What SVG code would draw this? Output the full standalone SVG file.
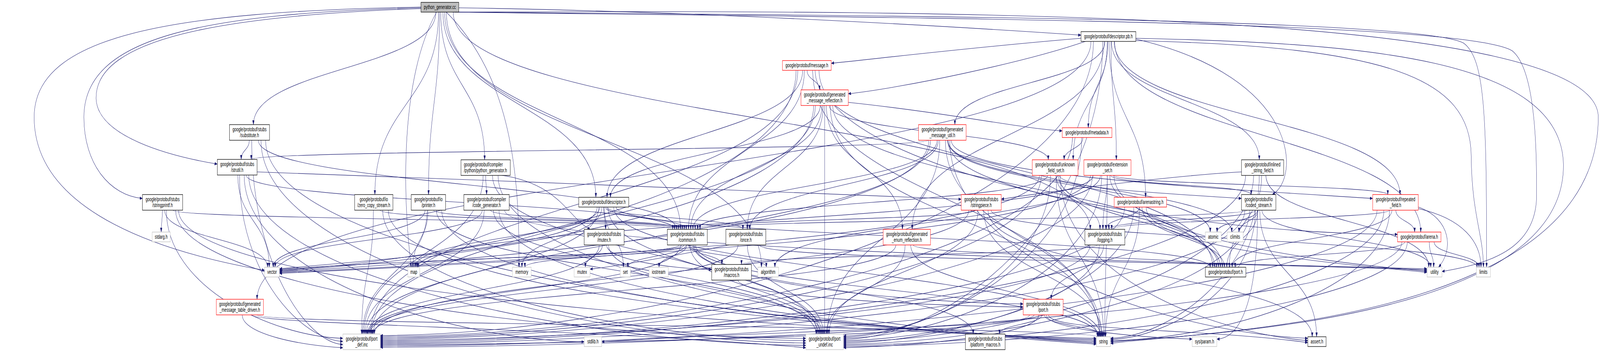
<svg xmlns="http://www.w3.org/2000/svg" width="6560" height="901" viewBox="0 0 6560 901" preserveAspectRatio="none">
<style>
svg{width:100vw;height:100vh}
.e path{fill:none;stroke:#191970;stroke-width:1.1;marker-end:url(#a)}
.node rect{stroke-width:1.3}
.b rect{fill:#fff;stroke:#000}
.g rect{fill:#fff;stroke:#bfbfbf}
.r rect{fill:#fff;stroke:#ff0000}
.root rect{fill:#bfbfbf;stroke:#000}
text{font-family:"Liberation Sans",Arial,Helvetica,sans-serif;font-size:14.5px;text-anchor:middle;fill:#000}
text.l{text-anchor:start}
</style>
<defs>
<marker id="a" viewBox="0 0 11 8" refX="11" refY="4" markerWidth="11" markerHeight="8" orient="auto" markerUnits="userSpaceOnUse"><path d="M0,0L11,4L0,8z" fill="#191970" stroke="#191970" stroke-width="0.5"/></marker>
</defs>
<rect width="6560" height="901" fill="#fff"/>
<g id="edges" class="e">
<path d="M1807,31C1807,220 1987,220 1987,409"/>
<path d="M1830,31C1830,358 3122,358 3122,684"/>
<path d="M1865,31C3500,40 5800,45 6000,110C6090,150 6095,300 6095,684"/>
<path d="M1790,31C1640,200 1650,500 1686,684"/>
<path d="M1830,31C2100,200 2130,450 2128,684"/>
<path d="M1857,31C4000,25 6553,30 6553,300C6553,820 5000,845 4553,879"/>
<path d="M1865,31C3500,45 6000,50 6200,130C6300,180 6300,400 6300,500C6300,640 6100,675 5912,695"/>
<path d="M1726,18C700,30 140,90 140,300C140,550 700,650 1085,692"/>
<path d="M1858,31C1858,309 4470,309 4470,587"/>
<path d="M1823,31C1823,309 2790,309 2790,587"/>
<path d="M1726,20C800,35 344,100 344,300C344,420 450,500 584,508"/>
<path d="M1881,20C3000,30 4200,80 4432,90"/>
<path d="M1802,31C1802,265 1757,265 1757,498"/>
<path d="M1798,31C1798,265 1537,265 1537,498"/>
<path d="M1816,31C1816,268 2443,268 2443,505"/>
<path d="M1726,22C900,40 394,100 394,250C394,350 700,400 891,420"/>
<path d="M1787,31C1787,175 1039,175 1039,319"/>
<path d="M4657,104C5700,120 6030,200 6032,400C6034,550 6082,600 6082,684"/>
<path d="M4657,98C5600,110 6400,150 6410,420C6420,800 5100,850 4553,875"/>
<path d="M4483,106C4483,558 2729,854 1559,859"/>
<path d="M4521,106C4521,564 3883,864 3458,869"/>
<path d="M4657,100C5340,200 5330,460 5216,498"/>
<path d="M4570,106C4570,350 5825,350 5825,594"/>
<path d="M4547,106C4547,306 4697,306 4697,505"/>
<path d="M4473,106C4473,436 1054,436 1054,766"/>
<path d="M4530,106C4530,212 3915,212 3915,319"/>
<path d="M4557,106C4557,258 5163,258 5163,409"/>
<path d="M4542,106C4542,216 4462,216 4462,327"/>
<path d="M4450,106C4200,160 3700,225 3478,240"/>
<path d="M4432,98C4000,120 3600,150 3408,162"/>
<path d="M4568,106C4568,302 5740,302 5740,498"/>
<path d="M4555,106C4555,258 4577,258 4577,409"/>
<path d="M4527,106C4527,346 3740,346 3740,587"/>
<path d="M4540,106C4540,258 4400,258 4400,409"/>
<path d="M3309,180C3309,205 3360,205 3360,230"/>
<path d="M3291,180C3291,342 2489,342 2489,505"/>
<path d="M3298,180C3298,384 2823,384 2823,587"/>
<path d="M3358,180C3358,432 4781,597 5730,600"/>
<path d="M3342,180C3342,432 4972,432 4972,684"/>
<path d="M3332,180C3332,521 4508,521 4508,862"/>
<path d="M3264,180C3264,489 1993,658 1146,692"/>
<path d="M3271,180C3271,518 1519,518 1519,855"/>
<path d="M3404,270C3404,566 4511,566 4511,862"/>
<path d="M3336,270C3336,527 2022,658 1146,694"/>
<path d="M3370,270C3370,429 2832,429 2832,587"/>
<path d="M3363,270C3363,388 2503,388 2503,505"/>
<path d="M3388,270C3388,429 3700,429 3700,587"/>
<path d="M3375,270C3375,429 3064,429 3064,587"/>
<path d="M3414,270C3414,477 4980,477 4980,684"/>
<path d="M3400,270C3400,340 4298,340 4298,409"/>
<path d="M3478,262C3900,290 4200,330 4355,335"/>
<path d="M3343,270C3343,563 1523,563 1523,855"/>
<path d="M3381,270C3381,563 3381,563 3381,855"/>
<path d="M3894,359C3894,663 4775,850 5362,866"/>
<path d="M3885,359C3885,477 4962,477 4962,594"/>
<path d="M3887,359C3887,477 5050,477 5050,594"/>
<path d="M3876,359C3876,611 4516,611 4516,862"/>
<path d="M3808,359C3808,564 2211,658 1146,696"/>
<path d="M3842,359C3842,473 2841,473 2841,587"/>
<path d="M3847,359C3847,473 3074,473 3074,587"/>
<path d="M3886,359C3886,522 4996,522 4996,684"/>
<path d="M3900,359C3900,448 4937,480 5628,508"/>
<path d="M3805,359C3805,384 1030,384 1030,408"/>
<path d="M3815,359C3815,607 1530,607 1530,855"/>
<path d="M3853,359C3853,607 3393,607 3393,855"/>
<path d="M4440,352C4440,381 4363,381 4363,409"/>
<path d="M4397,352C4397,658 2694,857 1559,862"/>
<path d="M4435,352C4435,657 3849,855 3458,860"/>
<path d="M1089,359C1089,665 3133,840 4495,869"/>
<path d="M1059,359C1059,473 2774,473 2774,587"/>
<path d="M1022,359C1022,384 989,384 989,408"/>
<path d="M1032,359C1032,673 1256,877 1406,882"/>
<path d="M1070,359C1070,670 2410,873 3304,878"/>
<path d="M1001,448C1001,704 1837,870 2395,875"/>
<path d="M975,448C975,566 1104,566 1104,684"/>
<path d="M1009,448C1009,518 2766,518 2766,587"/>
<path d="M1054,440C2000,460 3500,500 3941,510"/>
<path d="M982,448C982,704 1236,869 1406,874"/>
<path d="M1020,448C1020,710 2390,879 3304,884"/>
<path d="M2042,448C2042,706 3514,840 4495,878"/>
<path d="M1991,448C1991,473 1995,473 1995,498"/>
<path d="M2050,448C2300,470 2330,560 2420,587"/>
<path d="M1981,448C1981,652 1492,652 1492,855"/>
<path d="M2019,448C2019,652 3350,652 3350,855"/>
<path d="M4347,448C4347,702 4956,850 5362,872"/>
<path d="M4330,448C4330,655 4525,655 4525,862"/>
<path d="M4262,448C4262,601 2392,658 1146,698"/>
<path d="M4296,448C4296,518 2860,518 2860,587"/>
<path d="M4330,448C4330,518 4510,518 4510,587"/>
<path d="M4343,448C4343,484 4791,495 5090,508"/>
<path d="M4340,448C4340,566 5004,566 5004,684"/>
<path d="M4269,448C4269,698 2643,860 1559,865"/>
<path d="M4307,448C4307,697 3798,858 3458,863"/>
<path d="M4512,448C4512,566 3177,566 3177,684"/>
<path d="M4483,448C4483,566 1714,566 1714,684"/>
<path d="M4540,448C4540,655 4530,655 4530,862"/>
<path d="M4567,448C4567,596 5337,668 5851,694"/>
<path d="M4471,448C4471,601 2476,658 1146,700"/>
<path d="M4540,448C4540,518 4522,518 4522,587"/>
<path d="M4552,448C4552,473 5130,473 5130,498"/>
<path d="M4550,448C4550,566 5012,566 5012,684"/>
<path d="M4564,448C4564,473 5690,473 5690,498"/>
<path d="M4479,448C4479,700 2727,863 1559,868"/>
<path d="M4517,448C4517,699 3882,861 3458,866"/>
<path d="M5163,448C5163,699 4797,861 4553,866"/>
<path d="M5190,448C5190,566 5858,566 5858,684"/>
<path d="M5173,448C5173,566 5040,566 5040,684"/>
<path d="M5090,440C4800,450 4300,490 4105,510"/>
<path d="M5107,448C5107,705 2978,872 1559,877"/>
<path d="M5140,448C5140,704 4131,870 3458,875"/>
<path d="M666,538C666,566 661,566 661,594"/>
<path d="M732,538C732,735 2990,840 4495,866"/>
<path d="M675,538C675,611 1097,611 1097,684"/>
<path d="M709,538C709,562 2758,562 2758,587"/>
<path d="M682,538C682,735 1116,861 1406,866"/>
<path d="M720,538C720,735 2270,861 3304,866"/>
<path d="M1592,538C1592,738 3334,840 4495,872"/>
<path d="M1558,538C1558,562 2782,562 2782,587"/>
<path d="M1531,538C1531,696 1483,696 1483,855"/>
<path d="M1569,538C1569,738 2610,867 3304,872"/>
<path d="M1755,538C1755,611 1693,611 1693,684"/>
<path d="M1811,538C1811,740 3421,840 4495,875"/>
<path d="M1743,538C1743,611 1120,611 1120,684"/>
<path d="M1777,538C1777,562 2798,562 2798,587"/>
<path d="M1751,538C1751,696 1487,696 1487,855"/>
<path d="M1789,538C1789,696 3346,696 3346,855"/>
<path d="M2046,538C2046,740 3515,840 4495,881"/>
<path d="M2069,538C2069,628 4338,665 5851,688"/>
<path d="M1977,538C1977,611 1128,611 1128,684"/>
<path d="M2011,538C2011,562 2806,562 2806,587"/>
<path d="M1985,538C1985,696 1497,696 1497,855"/>
<path d="M2023,538C2023,696 3356,696 3356,855"/>
<path d="M2459,530C2459,607 1702,607 1702,684"/>
<path d="M2468,530C2468,607 2140,607 2140,684"/>
<path d="M2477,530C2477,607 2556,607 2556,684"/>
<path d="M2516,530C2516,696 4502,696 4502,862"/>
<path d="M2448,530C2448,625 1667,658 1146,688"/>
<path d="M2482,530C2482,558 2814,558 2814,587"/>
<path d="M2475,530C2475,558 2483,558 2483,587"/>
<path d="M2487,530C2487,558 3046,558 3046,587"/>
<path d="M2526,530C2526,607 4962,607 4962,684"/>
<path d="M2455,530C2455,692 1502,692 1502,855"/>
<path d="M2493,530C2493,692 3361,692 3361,855"/>
<path d="M4051,538C4051,700 5380,700 5380,862"/>
<path d="M4064,538C4064,611 6056,611 6056,684"/>
<path d="M4033,538C4033,700 4519,700 4519,862"/>
<path d="M3999,538C3999,562 2850,562 2850,587"/>
<path d="M3972,538C3972,696 1535,696 1535,855"/>
<path d="M4010,538C4010,696 3399,696 3399,855"/>
<path d="M4672,530C4672,696 4533,696 4533,862"/>
<path d="M4699,530C4699,630 5390,670 5851,697"/>
<path d="M4672,530C4672,558 4534,558 4534,587"/>
<path d="M4682,530C4682,607 5020,607 5020,684"/>
<path d="M4611,530C4611,736 2780,869 1559,874"/>
<path d="M4649,530C4649,739 3934,873 3458,878"/>
<path d="M5165,538C5165,700 5398,700 5398,862"/>
<path d="M5156,538C5156,566 4990,566 4990,594"/>
<path d="M5158,538C5158,566 5080,566 5080,594"/>
<path d="M5147,538C5147,737 4791,864 4553,869"/>
<path d="M5174,538C5174,611 5866,611 5866,684"/>
<path d="M5113,538C5113,562 2870,562 2870,587"/>
<path d="M5147,538C5147,562 4546,562 4546,587"/>
<path d="M5157,538C5157,611 5030,611 5030,684"/>
<path d="M5156,538C5156,780 5080,866 4989,868"/>
<path d="M5104,538C5104,743 2977,875 1559,880"/>
<path d="M5124,538C5124,744 4124,876 3458,881"/>
<path d="M5815,530C5950,560 5960,640 5898,684"/>
<path d="M5815,534C6000,560 6072,620 6072,684"/>
<path d="M5697,538C5697,740 5011,867 4553,872"/>
<path d="M5697,538C5697,562 4558,562 4558,587"/>
<path d="M5723,538C5723,566 5800,566 5800,594"/>
<path d="M5707,538C5707,611 5052,611 5052,684"/>
<path d="M5646,538C5646,747 3194,881 1559,886"/>
<path d="M5674,538C5674,746 4344,879 3458,884"/>
<path d="M2470,627C2470,655 2400,655 2400,684"/>
<path d="M2487,627C2487,665 2746,687 2918,690"/>
<path d="M2457,627C2457,741 1506,741 1506,855"/>
<path d="M2495,627C2495,741 3366,741 3366,855"/>
<path d="M2825,627C2825,655 3142,655 3142,684"/>
<path d="M2816,627C2816,655 2702,655 2702,684"/>
<path d="M2796,627C2796,655 1709,655 1709,684"/>
<path d="M2804,627C2804,655 2152,655 2152,684"/>
<path d="M2813,627C2813,655 2574,655 2574,684"/>
<path d="M2852,627C2852,744 4505,744 4505,862"/>
<path d="M2784,627C2784,655 1801,658 1146,690"/>
<path d="M2822,627C2822,652 2960,652 2960,677"/>
<path d="M2842,627C2842,741 3990,741 3990,855"/>
<path d="M2847,627C2847,718 3656,773 4195,778"/>
<path d="M2791,627C2791,741 1509,741 1509,855"/>
<path d="M2829,627C2829,741 3371,741 3371,855"/>
<path d="M2990,627C2800,650 2550,680 2419,689"/>
<path d="M3114,627C3114,665 4756,665 5851,691"/>
<path d="M3026,627C3026,741 1514,741 1514,855"/>
<path d="M3064,627C3064,741 3376,741 3376,855"/>
<path d="M3734,627C3734,744 4513,744 4513,862"/>
<path d="M3744,627C3744,655 4988,655 4988,684"/>
<path d="M3673,627C3673,741 1527,741 1527,855"/>
<path d="M3711,627C3711,741 3388,741 3388,855"/>
<path d="M4499,627C4499,652 3040,652 3040,677"/>
<path d="M4525,627C4525,696 4310,696 4310,766"/>
<path d="M4469,627C4469,773 2723,866 1559,871"/>
<path d="M4507,627C4507,774 3878,867 3458,872"/>
<path d="M5880,619C5880,652 6064,652 6064,684"/>
<path d="M5860,619C5860,652 5878,652 5878,684"/>
<path d="M5760,619C5760,652 5064,652 5064,684"/>
<path d="M5748,619C5748,781 3235,884 1559,889"/>
<path d="M5770,619C5770,780 4383,882 3458,887"/>
<path d="M3025,716C3025,758 3727,781 4195,786"/>
<path d="M4299,806C4299,848 4937,840 5362,877"/>
<path d="M4240,806C4240,840 3176,845 2467,875"/>
<path d="M4282,806C4282,834 4522,834 4522,862"/>
<path d="M4290,806C4290,845 4700,864 4888,868"/>
<path d="M4272,806C4272,830 4098,830 4098,855"/>
<path d="M4221,806C4221,852 2624,878 1559,883"/>
<path d="M4259,806C4259,856 3778,885 3458,890"/>
<path d="M1054,806C1054,834 4499,834 4499,862"/>
<path d="M993,806C993,856 1241,885 1406,890"/>
<path d="M1031,806C1031,830 2395,840 3304,890"/>
</g>
<g id="n_python_generator_cc" class="node root"><rect x="1726" y="6" width="155" height="25"/><text x="1803.5" y="23.5">python_generator.cc</text></g>
<g id="n_python_generator_h" class="node b"><rect x="1890" y="409" width="202" height="40"/><text class="l" x="1902" y="426.5">google/protobuf/compiler</text><text class="l" x="1902" y="441">/python/python_generator.h</text></g>
<g id="n_descriptor_pb_h" class="node b"><rect x="4432" y="81" width="225" height="25"/><text x="4544.5" y="98.5">google/protobuf/descriptor.pb.h</text></g>
<g id="n_message_h" class="node r"><rect x="3208" y="155" width="200" height="25"/><text x="3308" y="172.5">google/protobuf/message.h</text></g>
<g id="n_generated_message_reflection_h" class="node r"><rect x="3284" y="230" width="194" height="40"/><text x="3381" y="247.5">google/protobuf/generated</text><text x="3381" y="262">_message_reflection.h</text></g>
<g id="n_generated_message_util_h" class="node r"><rect x="3766" y="319" width="195" height="40"/><text x="3863.5" y="336.5">google/protobuf/generated</text><text x="3863.5" y="351">_message_util.h</text></g>
<g id="n_metadata_h" class="node r"><rect x="4355" y="327" width="204" height="25"/><text x="4457" y="344.5">google/protobuf/metadata.h</text></g>
<g id="n_unknown_field_set_h" class="node r"><rect x="4232" y="409" width="188" height="40"/><text x="4326" y="426.5">google/protobuf/unknown</text><text x="4326" y="441">_field_set.h</text></g>
<g id="n_extension_set_h" class="node r"><rect x="4444" y="409" width="193" height="40"/><text x="4540.5" y="426.5">google/protobuf/extension</text><text x="4540.5" y="441">_set.h</text></g>
<g id="n_inlined_string_field_h" class="node b"><rect x="5090" y="409" width="173" height="40"/><text x="5176.5" y="426.5">google/protobuf/inlined</text><text x="5176.5" y="441">_string_field.h</text></g>
<g id="n_substitute_h" class="node b"><rect x="941" y="319" width="164" height="40"/><text x="1023" y="336.5">google/protobuf/stubs</text><text x="1023" y="351">/substitute.h</text></g>
<g id="n_strutil_h" class="node b"><rect x="891" y="408" width="163" height="40"/><text x="972.5" y="425.5">google/protobuf/stubs</text><text x="972.5" y="440">/strutil.h</text></g>
<g id="n_stringprintf_h" class="node b"><rect x="584" y="498" width="165" height="40"/><text x="666.5" y="515.5">google/protobuf/stubs</text><text x="666.5" y="530">/stringprintf.h</text></g>
<g id="n_stdarg_h" class="node g"><rect x="624" y="594" width="74" height="25"/><text x="661" y="611.5">stdarg.h</text></g>
<g id="n_generated_message_table_driven_h" class="node r"><rect x="887" y="766" width="193" height="40"/><text x="983.5" y="783.5">google/protobuf/generated</text><text x="983.5" y="798">_message_table_driven.h</text></g>
<g id="n_vector" class="node g"><rect x="1085" y="684" width="61" height="25"/><text x="1115.5" y="701.5">vector</text></g>
<g id="n_zero_copy_stream_h" class="node b"><rect x="1454" y="498" width="157" height="40"/><text x="1532.5" y="515.5">google/protobuf/io</text><text x="1532.5" y="530">/zero_copy_stream.h</text></g>
<g id="n_printer_h" class="node b"><rect x="1686" y="498" width="141" height="40"/><text x="1756.5" y="515.5">google/protobuf/io</text><text x="1756.5" y="530">/printer.h</text></g>
<g id="n_code_generator_h" class="node b"><rect x="1902" y="498" width="186" height="40"/><text x="1995" y="515.5">google/protobuf/compiler</text><text x="1995" y="530">/code_generator.h</text></g>
<g id="n_map" class="node g"><rect x="1672" y="684" width="49" height="25"/><text x="1696.5" y="701.5">map</text></g>
<g id="n_memory" class="node g"><rect x="2101" y="684" width="77" height="25"/><text x="2139.5" y="701.5">memory</text></g>
<g id="n_port_def_inc" class="node g"><rect x="1406" y="855" width="153" height="40"/><text x="1482.5" y="872.5">google/protobuf/port</text><text x="1482.5" y="887">_def.inc</text></g>
<g id="n_descriptor_h" class="node b"><rect x="2373" y="505" width="205" height="25"/><text x="2475.5" y="522.5">google/protobuf/descriptor.h</text></g>
<g id="n_mutex_h" class="node b"><rect x="2395" y="587" width="164" height="40"/><text x="2477" y="604.5">google/protobuf/stubs</text><text x="2477" y="619">/mutex.h</text></g>
<g id="n_common_h" class="node b"><rect x="2736" y="587" width="164" height="40"/><text x="2818" y="604.5">google/protobuf/stubs</text><text x="2818" y="619">/common.h</text></g>
<g id="n_once_h" class="node b"><rect x="2976" y="587" width="164" height="40"/><text x="3058" y="604.5">google/protobuf/stubs</text><text x="3058" y="619">/once.h</text></g>
<g id="n_mutex" class="node g"><rect x="2354" y="684" width="65" height="25"/><text x="2386.5" y="701.5">mutex</text></g>
<g id="n_set" class="node g"><rect x="2543" y="684" width="42" height="25"/><text x="2564" y="701.5">set</text></g>
<g id="n_iostream" class="node g"><rect x="2661" y="684" width="79" height="25"/><text x="2700.5" y="701.5">iostream</text></g>
<g id="n_macros_h" class="node b"><rect x="2918" y="677" width="163" height="40"/><text x="2999.5" y="694.5">google/protobuf/stubs</text><text x="2999.5" y="709">/macros.h</text></g>
<g id="n_algorithm" class="node g"><rect x="3107" y="684" width="85" height="25"/><text x="3149.5" y="701.5">algorithm</text></g>
<g id="n_stdlib_h" class="node g"><rect x="2395" y="862" width="72" height="25"/><text x="2431" y="879.5">stdlib.h</text></g>
<g id="n_stringpiece_h" class="node r"><rect x="3941" y="498" width="164" height="40"/><text x="4023" y="515.5">google/protobuf/stubs</text><text x="4023" y="530">/stringpiece.h</text></g>
<g id="n_generated_enum_reflection_h" class="node r"><rect x="3621" y="587" width="194" height="40"/><text x="3718" y="604.5">google/protobuf/generated</text><text x="3718" y="619">_enum_reflection.h</text></g>
<g id="n_stubs_port_h" class="node r"><rect x="4195" y="766" width="164" height="40"/><text x="4277" y="783.5">google/protobuf/stubs</text><text x="4277" y="798">/port.h</text></g>
<g id="n_port_undef_inc" class="node g"><rect x="3304" y="855" width="154" height="40"/><text x="3381" y="872.5">google/protobuf/port</text><text x="3381" y="887">_undef.inc</text></g>
<g id="n_platform_macros_h" class="node b"><rect x="3958" y="855" width="163" height="40"/><text x="4039.5" y="872.5">google/protobuf/stubs</text><text x="4039.5" y="887">/platform_macros.h</text></g>
<g id="n_arenastring_h" class="node r"><rect x="4568" y="505" width="215" height="25"/><text x="4675.5" y="522.5">google/protobuf/arenastring.h</text></g>
<g id="n_coded_stream_h" class="node b"><rect x="5090" y="498" width="141" height="40"/><text x="5160.5" y="515.5">google/protobuf/io</text><text x="5160.5" y="530">/coded_stream.h</text></g>
<g id="n_logging_h" class="node b"><rect x="4448" y="587" width="164" height="40"/><text x="4530" y="604.5">google/protobuf/stubs</text><text x="4530" y="619">/logging.h</text></g>
<g id="n_atomic" class="node g"><rect x="4942" y="594" width="65" height="25"/><text x="4974.5" y="611.5">atomic</text></g>
<g id="n_climits" class="node g"><rect x="5031" y="594" width="66" height="25"/><text x="5064" y="611.5">climits</text></g>
<g id="n_port_h" class="node b"><rect x="4942" y="684" width="166" height="25"/><text x="5025" y="701.5">google/protobuf/port.h</text></g>
<g id="n_string" class="node g"><rect x="4495" y="862" width="58" height="25"/><text x="4524" y="879.5">string</text></g>
<g id="n_sys_param_h" class="node g"><rect x="4888" y="862" width="101" height="25"/><text x="4938.5" y="879.5">sys/param.h</text></g>
<g id="n_assert_h" class="node b"><rect x="5362" y="862" width="75" height="25"/><text x="5399.5" y="879.5">assert.h</text></g>
<g id="n_repeated_field_h" class="node r"><rect x="5628" y="498" width="187" height="40"/><text x="5721.5" y="515.5">google/protobuf/repeated</text><text x="5721.5" y="530">_field.h</text></g>
<g id="n_arena_h" class="node r"><rect x="5730" y="594" width="178" height="25"/><text x="5819" y="611.5">google/protobuf/arena.h</text></g>
<g id="n_utility" class="node g"><rect x="5851" y="684" width="61" height="25"/><text x="5881.5" y="701.5">utility</text></g>
<g id="n_limits" class="node g"><rect x="6053" y="684" width="58" height="25"/><text x="6082" y="701.5">limits</text></g>
</svg>
